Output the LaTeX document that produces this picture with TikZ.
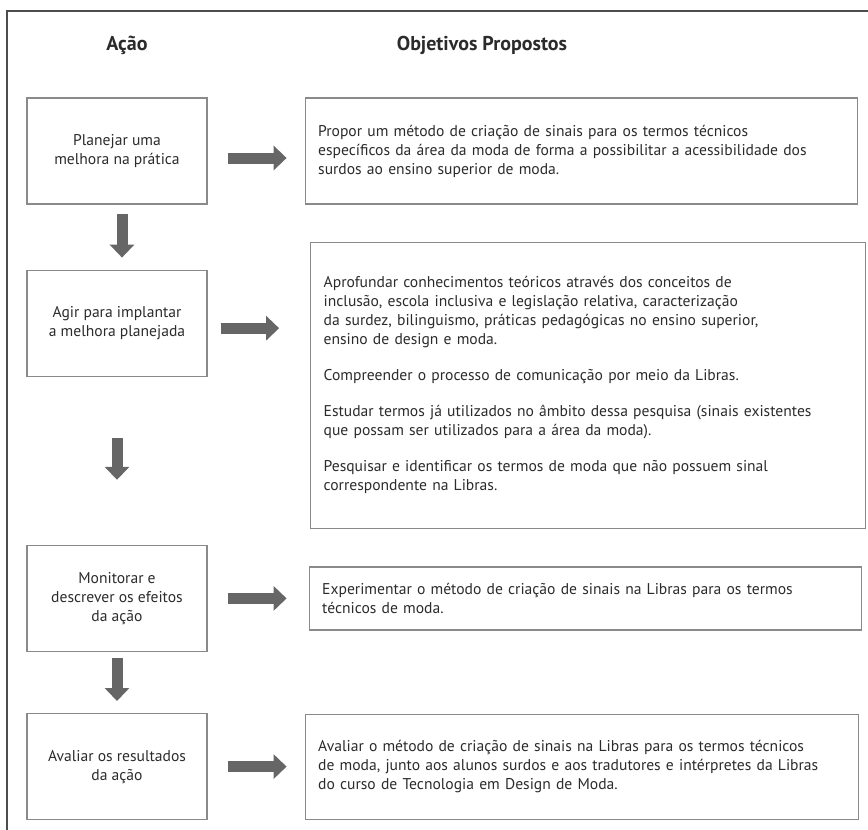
\documentclass[tikz,border=0pt]{standalone}
\usepackage{fontspec}
\setmainfont{PT Sans}
\usepackage{tikz}
\usetikzlibrary{arrows.meta, positioning}
\definecolor{framegray}{HTML}{4D4D4D}
\definecolor{boxgray}{HTML}{8A8A8A}
\definecolor{arrowgray}{HTML}{666666}
\definecolor{textgray}{HTML}{2B2B2B}

\begin{document}
\begin{tikzpicture}[
    x=1pt, y=-1pt,
    every node/.style={font=\fontsize{15.6}{19}\selectfont, text=textgray},
    acao/.style={
        rectangle,
        draw=boxgray,
        line width=1.2pt,
        minimum width=180pt,
        minimum height=106pt,
        inner sep=0pt,
        align=center
    },
    objetivo/.style={
        rectangle,
        draw=boxgray,
        line width=1.2pt,
        inner xsep=13pt,
        inner ysep=0pt,
        align=left
    },
    titulo/.style={
        font=\fontsize{20}{24}\selectfont\bfseries
    },
    blockarrow/.style={
        -{Triangle[length=13pt, width=24pt]},
        line width=11pt,
        draw=arrowgray
    }
]
\useasboundingbox (0,0) rectangle (868,830);

% Frame
\draw[framegray, line width=1.3pt] (7,830) -- (7,11) -- (868,11);

% Headings
\node[titulo] (acaotit) at (127,45) {Ação};
\node[titulo] (objtit) at (482,45) {Objetivos Propostos};

% Left column - actions
\node[acao] (planejar) at (117,151) {Planejar uma\\melhora na prática};
\node[acao, below=65pt of planejar] (agir) {Agir para implantar\\a melhora planejada};
\node[acao, below=168pt of agir] (monitorar) {Monitorar e\\descrever os efeitos\\da ação};
\node[acao, below=61pt of monitorar] (avaliar) {Avaliar os resultados\\da ação};

% Right column - objectives
\node[objetivo, text width=526pt, minimum height=106pt, right=97pt of planejar] (propor) {Propor um método de criação de sinais para os termos técnicos\\específicos da área da moda de forma a possibilitar a acessibilidade dos\\surdos ao ensino superior de moda.};
\node[objetivo, text width=529pt, minimum height=286pt, below=37pt of propor, xshift=7pt] (aprofundar) {Aprofundar conhecimentos teóricos através dos conceitos de\\inclusão, escola inclusiva e legislação relativa, caracterização\\da surdez, bilinguismo, práticas pedagógicas no ensino superior,\\ensino de design e moda.\\[17pt]Compreender o processo de comunicação por meio da Libras.\\[17pt]Estudar termos já utilizados no âmbito dessa pesquisa (sinais existentes\\que possam ser utilizados para a área da moda).\\[17pt]Pesquisar e identificar os termos de moda que não possuem sinal\\correspondente na Libras.\\[36pt]};
\node[objetivo, text width=526pt, minimum height=63pt, right=101pt of monitorar] (experimentar) {Experimentar o método de criação de sinais na Libras para os termos\\técnicos de moda.};
\node[objetivo, text width=527pt, minimum height=105pt, right=97pt of avaliar] (avaliarobj) {Avaliar o método de criação de sinais na Libras para os termos técnicos\\de moda, junto aos alunos surdos e aos tradutores e intérpretes da Libras\\do curso de Tecnologia em Design de Moda.};

% Arrows to objectives
\draw[blockarrow, shorten <=20pt, shorten >=18pt] ([yshift=-7pt]planejar.east) -- ([yshift=-7pt]planejar.east -| propor.west);
\draw[blockarrow, shorten <=13pt, shorten >=31pt] ([yshift=-5pt]agir.east) -- ([yshift=-5pt]agir.east -| aprofundar.west);
\draw[blockarrow, shorten <=20pt, shorten >=22pt] (monitorar.east) -- (monitorar.east -| experimentar.west);
\draw[blockarrow, shorten <=20pt, shorten >=18pt] (avaliar.east) -- (avaliar.east -| avaliarobj.west);

% Arrows between actions
\draw[blockarrow, shorten <=9pt, shorten >=12pt] ([xshift=5pt]planejar.south) -- ([xshift=5pt]agir.north);
\draw[blockarrow, shorten <=61pt, shorten >=65pt] (agir.south) -- (monitorar.north);
\draw[blockarrow, shorten <=6pt, shorten >=12pt] (monitorar.south) -- (avaliar.north);

\end{tikzpicture}
\end{document}
